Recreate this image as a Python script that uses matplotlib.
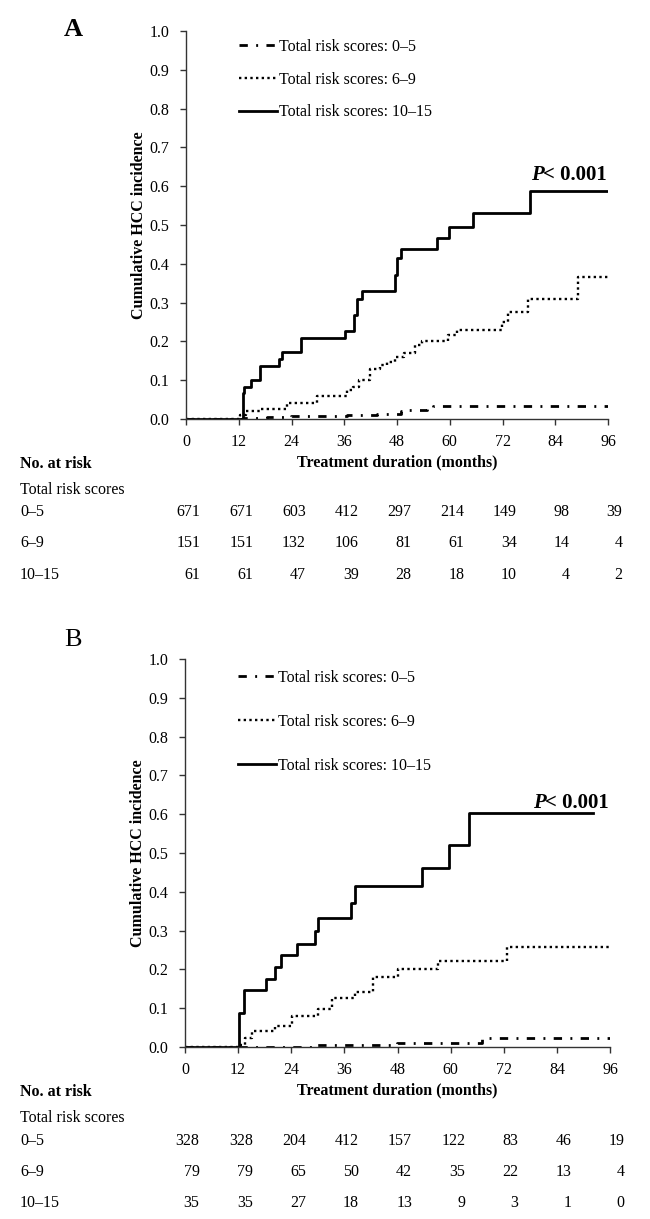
import numpy as np
import matplotlib
matplotlib.use("Agg")
import matplotlib.pyplot as plt
import matplotlib.transforms as mtrans

plt.rcParams['font.family'] = ['Liberation Serif', 'DejaVu Serif']
plt.rcParams['font.size'] = 11.5

# ---- panel A step curves (months, cumulative incidence) ----
a_t_low = [0, 13, 18.5, 23.8, 30.6, 36.7, 43.5, 48.8, 50.3, 54.8, 56.3, 96]
a_y_low = [0, 0.002, 0.004, 0.008, 0.009, 0.010, 0.012, 0.021, 0.023, 0.032, 0.034, 0.034]
a_t_mid = [0, 12.3, 13.6, 17.0, 22.9, 29.9, 36.7, 37.9, 39.3, 41.9, 44.2, 45.7, 47.6, 49.5,
           52.2, 53.7, 59.7, 61.6, 71.8, 73.3, 77.9, 89.2, 96]
a_y_mid = [0, 0.010, 0.021, 0.027, 0.042, 0.058, 0.075, 0.083, 0.100, 0.128, 0.139, 0.148,
           0.159, 0.169, 0.191, 0.202, 0.216, 0.229, 0.251, 0.277, 0.308, 0.367, 0.367]
a_t_high = [0, 12.9, 13.3, 14.7, 16.9, 21.2, 21.9, 26.1, 36.1, 38.2, 38.9, 40.1, 47.6, 48.0,
            49.0, 57.1, 59.9, 65.4, 78.2, 96]
a_y_high = [0, 0.066, 0.083, 0.100, 0.137, 0.154, 0.172, 0.208, 0.228, 0.268, 0.309, 0.330,
            0.371, 0.414, 0.437, 0.466, 0.496, 0.530, 0.588, 0.588]

# ---- panel B step curves ----
b_t_low = [0, 16, 28.6, 47.8, 67.0, 96]
b_y_low = [0, 0.0, 0.006, 0.010, 0.023, 0.023]
b_t_mid = [0, 12.3, 13.6, 15.1, 20.3, 24.1, 30.1, 33.1, 38.4, 42.4, 48.2, 57.2, 72.7, 96]
b_y_mid = [0, 0.006, 0.023, 0.040, 0.053, 0.081, 0.098, 0.126, 0.143, 0.180, 0.201, 0.221,
           0.259, 0.259]
b_t_high = [0, 12.3, 13.3, 18.3, 20.3, 21.6, 25.4, 29.4, 30.1, 37.4, 38.3, 53.5, 59.6, 64.2, 92.2]
b_y_high = [0, 0.088, 0.148, 0.176, 0.205, 0.236, 0.265, 0.300, 0.332, 0.371, 0.414, 0.461,
            0.521, 0.603, 0.603]

# ---- number at risk ----
risk_times = [0, 12, 24, 36, 48, 60, 72, 84, 96]
row_names = ['0\u20135', '6\u20139', '10\u201315']
a_risk = [[671, 671, 603, 412, 297, 214, 149, 98, 39],
          [151, 151, 132, 106, 81, 61, 34, 14, 4],
          [61, 61, 47, 39, 28, 18, 10, 4, 2]]
b_risk = [[328, 328, 204, 412, 157, 122, 83, 46, 19],
          [79, 79, 65, 50, 42, 35, 22, 13, 4],
          [35, 35, 27, 18, 13, 9, 3, 1, 0]]

labels = ['Total risk scores: 0\u20135', 'Total risk scores: 6\u20139',
          'Total risk scores: 10\u201315']

W, H = 650, 1219
fig = plt.figure(figsize=(6.5, 12.19), dpi=100)


def px(x, y):
    return x / W, 1 - y / H


def panel(rect, curves, risk, letter, bold_letter, leg_top, leg_spacing, rows_y, label_y):
    ax = fig.add_axes(rect)
    styles = [dict(ls=(0, (3, 3, 0.7, 3)), lw=2.0),
              dict(ls=(0, (1, 1.4)), lw=1.7),
              dict(ls='-', lw=2.0)]
    for (t, y), st, lab in zip(curves, styles, labels):
        ax.step(t, y, where='post', color='black', label=lab, **st)
    ax.set_xlim(0, 96)
    ax.set_ylim(0, 1.0)
    ax.set_xticks(risk_times)
    ax.set_yticks(np.arange(0, 1.01, 0.1))
    ax.yaxis.set_major_formatter(plt.FormatStrFormatter('%.1f'))
    for s in ['top', 'right']:
        ax.spines[s].set_visible(False)
    for s in ['left', 'bottom']:
        ax.spines[s].set_color('#333333')
        ax.spines[s].set_linewidth(1.0)
    ax.tick_params(direction='out', length=4, width=1, color='#333333', labelsize=11.5)
    ax.tick_params(axis='x', pad=7)
    ax.tick_params(axis='y', pad=8)
    ax.set_ylabel('Cumulative HCC incidence', fontweight='bold', labelpad=2)
    ax.set_xlabel('Treatment duration (months)', fontweight='bold', labelpad=3)
    ax.legend(loc='upper left', bbox_to_anchor=(0.125, leg_top), frameon=False,
              handlelength=2.4, handletextpad=0.1, labelspacing=leg_spacing,
              borderpad=0, borderaxespad=0, fontsize=11.5)
    t1 = ax.text(95.8, 0.615, '< 0.001', ha='right', va='baseline',
                 fontsize=15, fontweight='bold')
    ax.annotate('P', xy=(0, 0), xycoords=t1, ha='right', va='bottom',
                fontsize=15, fontweight='bold', fontstyle='italic')

    fig.text(*px(64, label_y), letter, fontsize=19,
             fontweight='bold' if bold_letter else 'normal', va='center')

    tr = mtrans.blended_transform_factory(ax.transData, fig.transFigure)
    fig.text(*px(20, rows_y[0]), 'No. at risk', fontweight='bold', va='center')
    fig.text(*px(20, rows_y[1]), 'Total risk scores', va='center')
    for name, vals, yy in zip(row_names, risk, rows_y[2:]):
        fig.text(*px(20, yy), name, va='center')
        for t, v in zip(risk_times, vals):
            ax.text(t + 3.3, 1 - yy / H, str(v), transform=tr, ha='right',
                    va='center', clip_on=False)
    return ax


panel([186 / W, 1 - 419 / H, 422 / W, 388 / H],
      [(a_t_low, a_y_low), (a_t_mid, a_y_mid), (a_t_high, a_y_high)],
      a_risk, 'A', True, 0.98, 1.05, [464, 490, 512, 543, 575], 29)
panel([185 / W, 1 - 1047 / H, 425 / W, 388 / H],
      [(b_t_low, b_y_low), (b_t_mid, b_y_mid), (b_t_high, b_y_high)],
      b_risk, 'B', False, 0.972, 1.75, [1092, 1118, 1141, 1172, 1203], 640)

fig.savefig('out.png', dpi=100)
